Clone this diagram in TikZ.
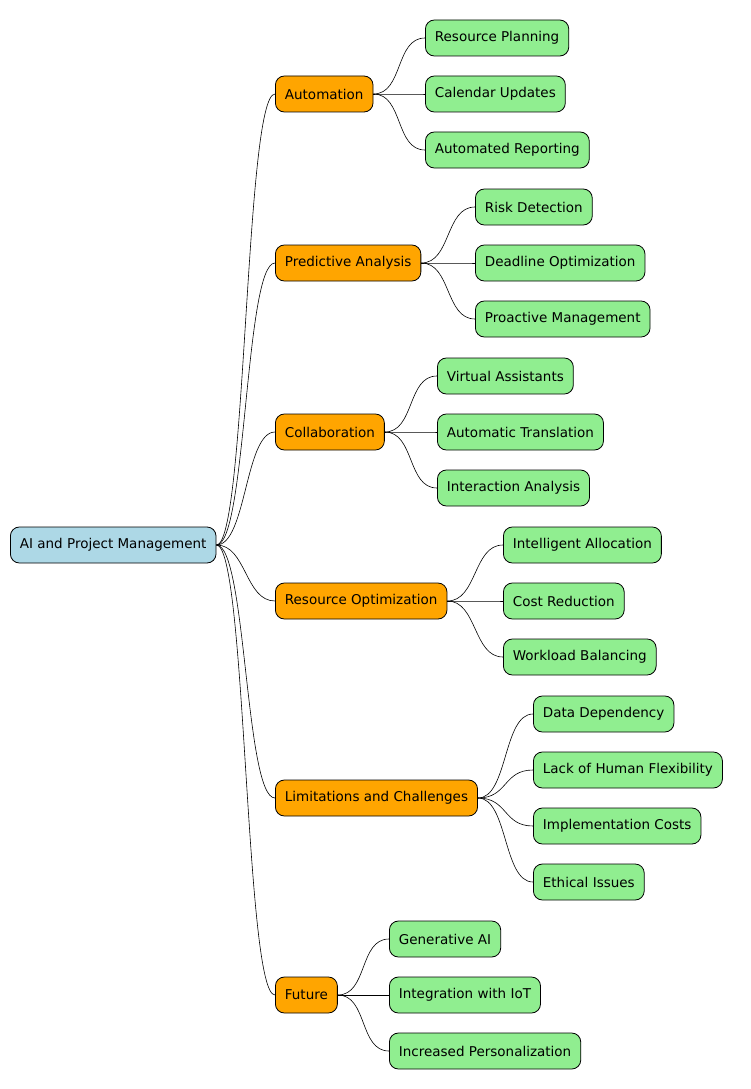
\documentclass[tikz,border=0pt]{standalone}
\usepackage{fontspec}
\setmainfont{DejaVu Sans}
\begin{document}
\begin{tikzpicture}[x=1pt,y=-1pt,
  box/.style={draw=black,rounded corners=9pt,minimum height=36pt,inner xsep=9.5pt,anchor=west,font=\fontsize{13.5pt}{16pt}\selectfont,line width=0.8pt},
  root/.style={box,fill=cyan!10!lightgray!60!cyan!30},
  mid/.style={box,fill=orange},
  leaf/.style={box,fill=green!45!white!85!lime},
  ln/.style={line width=0.6pt}]
\useasboundingbox (0,0) rectangle (750,1089);
\colorlet{rootc}{cyan!25!white}
\node[box,fill={rgb,255:red,173;green,216;blue,230}] (r) at (10,545) {AI and Project Management};
\tikzset{mid/.style={box,fill={rgb,255:red,255;green,165;blue,0}},leaf/.style={box,fill={rgb,255:red,144;green,238;blue,144}}}
\node[mid] (a) at (275,94) {Automation};
\node[mid] (b) at (275,263) {Predictive Analysis};
\node[mid] (c) at (275,432) {Collaboration};
\node[mid] (d) at (275,601) {Resource Optimization};
\node[mid] (e) at (275,798) {Limitations and Challenges};
\node[mid] (f) at (275,995) {Future};
\node[leaf] (a1) at (425,38) {Resource Planning};
\node[leaf] (a2) at (425,94) {Calendar Updates};
\node[leaf] (a3) at (425,150) {Automated Reporting};
\node[leaf] (b1) at (475,207) {Risk Detection};
\node[leaf] (b2) at (475,263) {Deadline Optimization};
\node[leaf] (b3) at (475,319) {Proactive Management};
\node[leaf] (c1) at (437,376) {Virtual Assistants};
\node[leaf] (c2) at (437,432) {Automatic Translation};
\node[leaf] (c3) at (437,488) {Interaction Analysis};
\node[leaf] (d1) at (503,545) {Intelligent Allocation};
\node[leaf] (d2) at (503,601) {Cost Reduction};
\node[leaf] (d3) at (503,657) {Workload Balancing};
\node[leaf] (e1) at (533,714) {Data Dependency};
\node[leaf] (e2) at (533,770) {Lack of Human Flexibility};
\node[leaf] (e3) at (533,826) {Implementation Costs};
\node[leaf] (e4) at (533,882) {Ethical Issues};
\node[leaf] (f1) at (389,939) {Generative AI};
\node[leaf] (f2) at (389,995) {Integration with IoT};
\node[leaf] (f3) at (389,1051) {Increased Personalization};
\foreach \p/\c in {r/a,r/b,r/c,r/d,r/e,r/f,a/a1,a/a2,a/a3,b/b1,b/b2,b/b3,c/c1,c/c2,c/c3,d/d1,d/d2,d/d3,e/e1,e/e2,e/e3,e/e4,f/f1,f/f2,f/f3}
  \draw[ln] (\p.east) .. controls +(30,0) and +(-30,0) .. (\c.west);
\end{tikzpicture}
\end{document}
